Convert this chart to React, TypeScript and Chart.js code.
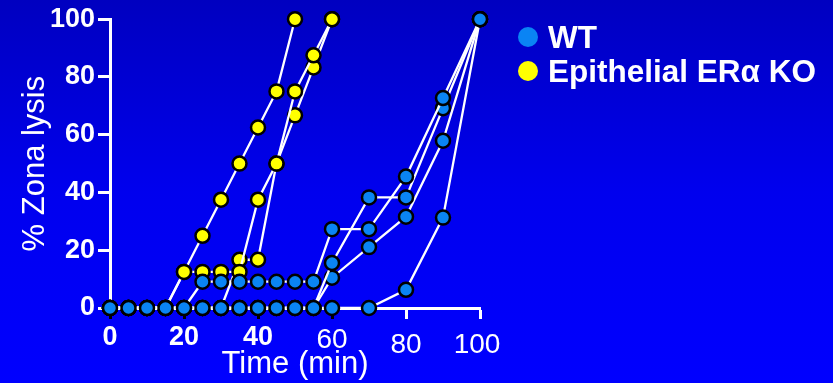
import React, { useEffect, useRef } from 'react';
import { Chart, registerables } from 'chart.js';

Chart.register(...registerables);

const FONT = "'Liberation Sans', Arial, Helvetica, sans-serif";

// WT curves (time in min, % zona lysis)
const wtTimes = [0, 5, 10, 15, 20, 25, 30, 35, 40, 45, 50, 55, 60, 70, 80, 90, 100];
const wtA = [0, 0, 0, 0, 0, 9.1, 9.1, 9.1, 9.1, 9.1, 9.1, 9.1, 27.3, 27.3, 45.5, 72.7, 100];
const wtB = [0, 0, 0, 0, 0, 0, 0, 0, 0, 0, 0, 0, 15.6, 38.3, 38.3, 69.2, 100];
const wtC = [0, 0, 0, 0, 0, 0, 0, 0, 0, 0, 0, 0, 10.5, 21.1, 31.6, 57.9, 100];
const wtD = [0, 0, 0, 0, 0, 0, 0, 0, 0, 0, 0, 0, 0, 0, 6.3, 31.3, 100];

// Epithelial ERα KO curves
const koTimes = [0, 5, 10, 15, 20, 25, 30, 35, 40, 45, 50, 55, 60];
const koA = [0, 0, 0, 0, 12.5, 25, 37.5, 50, 62.5, 75, 100];
const koB = [0, 0, 0, 0, 12.5, 12.5, 12.5, 12.5, 37.5, 50, 75, 87.5, 100];
const koC = [0, 0, 0, 0, 0, 0, 0, 16.7, 16.7, 50, 66.7, 83.3, 100];

const xTickValues = [0, 20, 40, 60, 80, 100];
const xTickLabels = ['0', '20', '40', '60', '80', '100'];
const seriesNames = ['WT', 'Epithelial ERα KO'];
const seriesColors = ['#0a84f4', '#ffff00'];

const toPoints = (times: number[], values: number[]) =>
  values.map((v, i) => ({ x: times[i], y: v }));

const bgPlugin = {
  id: 'bgGradient',
  beforeDraw(chart: any) {
    const { ctx, width, height } = chart;
    const g = ctx.createLinearGradient(0, 0, 0, height);
    g.addColorStop(0, '#0000c0');
    g.addColorStop(0.5, '#0000ee');
    g.addColorStop(1, '#0000ff');
    ctx.save();
    ctx.fillStyle = g;
    ctx.fillRect(0, 0, width, height);
    ctx.restore();
  },
};

const textPlugin = {
  id: 'customText',
  afterDraw(chart: any) {
    const { ctx } = chart;
    const xs = chart.scales.x;
    ctx.save();
    ctx.fillStyle = '#ffffff';
    ctx.textAlign = 'center';
    ctx.textBaseline = 'alphabetic';
    xTickValues.forEach((v, i) => {
      const px = xs.getPixelForValue(v);
      let font = `bold 27px ${FONT}`;
      let base = xs.top + 37;
      if (v >= 80) {
        font = `28px ${FONT}`;
        base = xs.top + 45;
      } else if (v >= 60) {
        font = `28px ${FONT}`;
        base = xs.top + 39.5;
      }
      ctx.font = font;
      ctx.fillText(xTickLabels[i], v === 100 ? px - 3 : px, base);
    });

    // legend
    const lx = 528;
    const rows = [37, 71];
    ctx.textAlign = 'left';
    ctx.font = `bold 31.5px ${FONT}`;
    seriesNames.forEach((name, i) => {
      ctx.beginPath();
      ctx.arc(lx, rows[i], 10, 0, Math.PI * 2);
      ctx.fillStyle = seriesColors[i];
      ctx.fill();
      ctx.fillStyle = '#ffffff';
      ctx.fillText(name, lx + 20, rows[i] + 10.5);
    });
    ctx.restore();
  },
};

function makeDataset(times: number[], values: number[], color: string) {
  return {
    data: toPoints(times, values),
    showLine: true,
    borderColor: '#ffffff',
    borderWidth: 2.3,
    pointRadius: 7,
    pointHoverRadius: 7,
    pointBorderWidth: 2.5,
    pointBorderColor: '#000000',
    pointBackgroundColor: color,
    tension: 0,
    clip: false as any,
  };
}

export default function App() {
  const ref = useRef<HTMLCanvasElement | null>(null);
  useEffect(() => {
    if (!ref.current) return;
    const chart = new Chart(ref.current, {
      type: 'scatter',
      data: {
        datasets: [
          makeDataset(wtTimes, wtA, seriesColors[0]),
          makeDataset(wtTimes, wtB, seriesColors[0]),
          makeDataset(wtTimes, wtC, seriesColors[0]),
          makeDataset(wtTimes, wtD, seriesColors[0]),
          makeDataset(koTimes, koA, seriesColors[1]),
          makeDataset(koTimes, koB, seriesColors[1]),
          makeDataset(koTimes, koC, seriesColors[1]),
        ],
      },
      options: {
        responsive: false,
        animation: false,
        layout: { padding: { left: 0, top: 15, right: 353, bottom: 0 } },
        plugins: {
          legend: { display: false },
          tooltip: { enabled: false },
        },
        scales: {
          x: {
            type: 'linear',
            min: 0,
            max: 100,
            ticks: {
              stepSize: 20,
              color: 'rgba(0,0,0,0)',
              font: { family: FONT, size: 27 },
            },
            grid: {
              drawOnChartArea: false,
              drawTicks: true,
              tickLength: 11,
              tickWidth: 3,
              tickColor: (c: any) => (c.tick && c.tick.value >= 80 ? '#ffffff' : '#000000'),
            },
            border: { color: '#ffffff', width: 3 },
            title: {
              display: true,
              text: 'Time (min)',
              color: '#ffffff',
              font: { family: FONT, size: 31 },
              padding: { top: 0, bottom: 0 },
            },
            afterFit: (s: any) => {
              s.height = 75;
            },
          },
          y: {
            type: 'linear',
            min: 0,
            max: 100,
            ticks: {
              stepSize: 20,
              color: '#ffffff',
              padding: 3,
              font: { family: FONT, size: 27, weight: 'bold' },
            },
            grid: {
              drawOnChartArea: false,
              drawTicks: true,
              tickLength: 12,
              tickWidth: 3,
              tickColor: '#ffffff',
            },
            border: { color: '#ffffff', width: 3 },
            title: {
              display: true,
              text: '% Zona lysis',
              color: '#ffffff',
              font: { family: FONT, size: 31 },
              padding: { top: 17, bottom: 0 },
            },
            afterFit: (s: any) => {
              s.width = 110;
            },
          },
        },
      },
      plugins: [bgPlugin, textPlugin],
    });
    return () => chart.destroy();
  }, []);
  return (
    <div style={{ position: 'fixed', left: 0, top: 0, width: 833, height: 383 }}>
      <canvas ref={ref} width={833} height={383} />
    </div>
  );
}
